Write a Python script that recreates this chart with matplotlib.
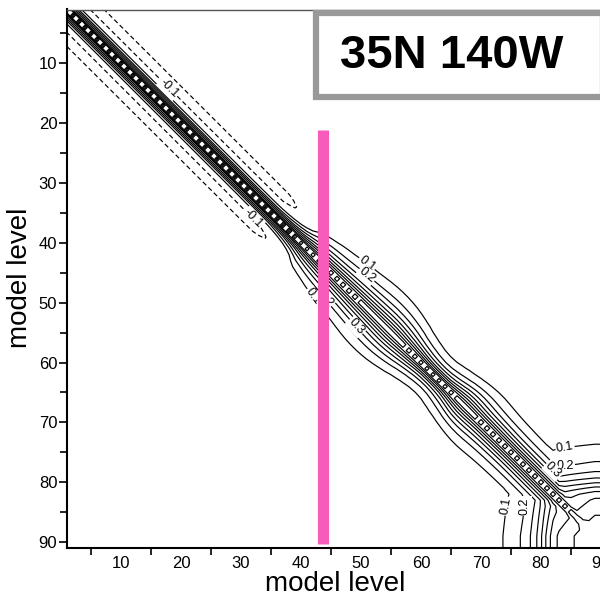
import numpy as np
import matplotlib
matplotlib.use("Agg")
import matplotlib.pyplot as plt
from matplotlib.patches import Rectangle

plt.rcParams['font.family'] = ['Liberation Sans', 'DejaVu Sans']
plt.rcParams['axes.unicode_minus'] = False

# ---------------- data ----------------
model_levels = np.arange(1, 92)

# local correlation length (in model levels) along the column
scale_lv = [1, 30, 36, 38, 40, 42, 45, 50, 55, 58, 61, 64, 67, 70, 75, 80, 91]
scale_L = [1.4, 1.45, 1.5, 1.75, 2.2, 2.8, 3.25, 3.9, 4.45, 3.55, 2.6, 2.7, 4.2, 3.65, 3.35, 3.35, 3.35]
peak_shape = 1.1

# amplitude of negative side-lobes (upper levels only)
neg_lv = [1, 35, 39, 41, 91]
neg_amp = [0.17, 0.17, 0.10, 0.0, 0.0]
neg_center = 4.6      # distance (levels) of the negative lobe
neg_width = 2.3

# boundary-layer block correlation near the surface
block_lv = [1, 70, 73.7, 76.7, 78.3, 79.4, 80.1, 80.8, 81.5, 82.4, 85.5, 89, 91]
block_val = [0, 0, 0.1, 0.2, 0.3, 0.4, 0.5, 0.6, 0.7, 0.8, 0.9, 1.0, 1.0]

contour_levels = [-0.1, 0.1, 0.2, 0.3, 0.4, 0.5, 0.6, 0.7, 0.8, 0.9]

label_values = [-0.1, -0.1, 0.1, 0.1, 0.1, 0.1, 0.2, 0.2, 0.2, 0.2, 0.3, 0.3]
label_x = [17.8, 31.3, 50.8, 41.8, 84.4, 73.6, 50.5, 44.6, 83.8, 76.0, 48.7, 82.3]
label_y = [15.0, 35.8, 43.3, 48.6, 73.8, 84.2, 45.6, 49.3, 76.6, 83.5, 54.3, 78.2]

highlight_level = 43.6
highlight_top = 21.1
highlight_bottom = 90.3

x_ticks = [10, 20, 30, 40, 50, 60, 70, 80, 90]
y_ticks = [10, 20, 30, 40, 50, 60, 70, 80, 90]
title_text = "35N 140W"
axis_label = "model level"

# ---------------- build the correlation field ----------------
fine = np.linspace(1, 91, 4001)
Lf = np.interp(fine, scale_lv, scale_L)
s_f = np.concatenate([[0.0], np.cumsum(0.5 * (1 / Lf[1:] + 1 / Lf[:-1]) * np.diff(fine))])
s = np.interp(model_levels, fine, s_f)
ds = np.abs(s[:, None] - s[None, :])
local = np.exp(-ds ** peak_shape)
dist = np.abs(model_levels[:, None] - model_levels[None, :]).astype(float)
mid = 0.5 * (model_levels[:, None] + model_levels[None, :])
amp = np.interp(mid, neg_lv, neg_amp)
local = local - amp * np.exp(-((dist - neg_center) / neg_width) ** 2)
b = np.interp(model_levels, block_lv, block_val)
block = b[:, None] * b[None, :]
corr = np.where((block > 0) & (block > local), block, local)
np.fill_diagonal(corr, 1.0)

# ---------------- figure ----------------
W, H = 600, 596
fig = plt.figure(figsize=(W / 100, H / 100), dpi=100)
left, right, top, bottom = 67, 607, 9.5, 548
ax = fig.add_axes([left / W, 1 - bottom / H, (right - left) / W, (bottom - top) / H])

cs = ax.contour(model_levels, model_levels, corr, levels=contour_levels,
                colors='k', linewidths=0.85)
cs.set_linestyles([(0, (4, 2.5)) if lv < 0 else 'solid' for lv in contour_levels])

ax.set_xlim(1, 91)
ax.set_ylim(91, 1)


def place_label(level, x, y):
    i = contour_levels.index(level)
    P = ax.transData.transform([(x, y)])[0]
    best = None
    for seg in cs.allsegs[i]:
        if len(seg) < 2:
            continue
        d = ax.transData.transform(seg)
        d2 = ((d - P) ** 2).sum(1)
        k = int(d2.argmin())
        if best is None or d2[k] < best[0]:
            best = (d2[k], seg, d, k)
    if best is None:
        return
    _, seg, d, k = best
    k0, k1 = max(k - 2, 0), min(k + 2, len(d) - 1)
    dx, dy = d[k1] - d[k0]
    ang = np.degrees(np.arctan2(dy, dx))
    if ang > 90:
        ang -= 180
    if ang < -90:
        ang += 180
    ax.text(seg[k, 0], seg[k, 1], '%.1f' % level, rotation=ang,
            rotation_mode='anchor', ha='center', va='center', fontsize=9,
            bbox=dict(boxstyle='square,pad=0.08', fc='white', ec='none'), zorder=3)


for lv, x, y in zip(label_values, label_x, label_y):
    place_label(lv, x, y)

ax.vlines(highlight_level, highlight_top, highlight_bottom, color='#F95BBD',
          linewidth=8, capstyle='butt', zorder=5)

ax.set_xticks(x_ticks)
ax.set_yticks(y_ticks)
ax.set_xticks(np.arange(5, 91, 10), minor=True)
ax.set_yticks(np.arange(5, 91, 10), minor=True)
ax.tick_params(axis='both', which='major', labelsize=12, direction='out', width=1.2)
ax.tick_params(axis='x', which='major', length=0, pad=6)
ax.tick_params(axis='y', which='major', length=6, pad=1)
ax.tick_params(axis='both', which='minor', length=5, width=1.2, direction='out')
ax.spines['left'].set_linewidth(1.5)
ax.spines['bottom'].set_linewidth(1.5)
ax.spines['top'].set_linewidth(1.0)
ax.spines['top'].set_color('#555555')
ax.spines['right'].set_visible(False)

fig.text(335 / W, 1 - 591 / H, axis_label, fontsize=20, ha='center', va='baseline')
fig.text(20 / W, 1 - 278 / H, axis_label, fontsize=20, ha='center', va='center',
         rotation=90)

box = Rectangle((316 / W, 1 - 97 / H), (603 - 316) / W, (97 - 13) / H,
                transform=fig.transFigure, facecolor='white', edgecolor='#999999',
                linewidth=4.5, zorder=10)
fig.add_artist(box)
fig.text(452 / W, 1 - 56 / H, title_text, fontsize=34, fontweight='bold',
         ha='center', va='center', zorder=11)

fig.savefig('out.png', dpi=100)
